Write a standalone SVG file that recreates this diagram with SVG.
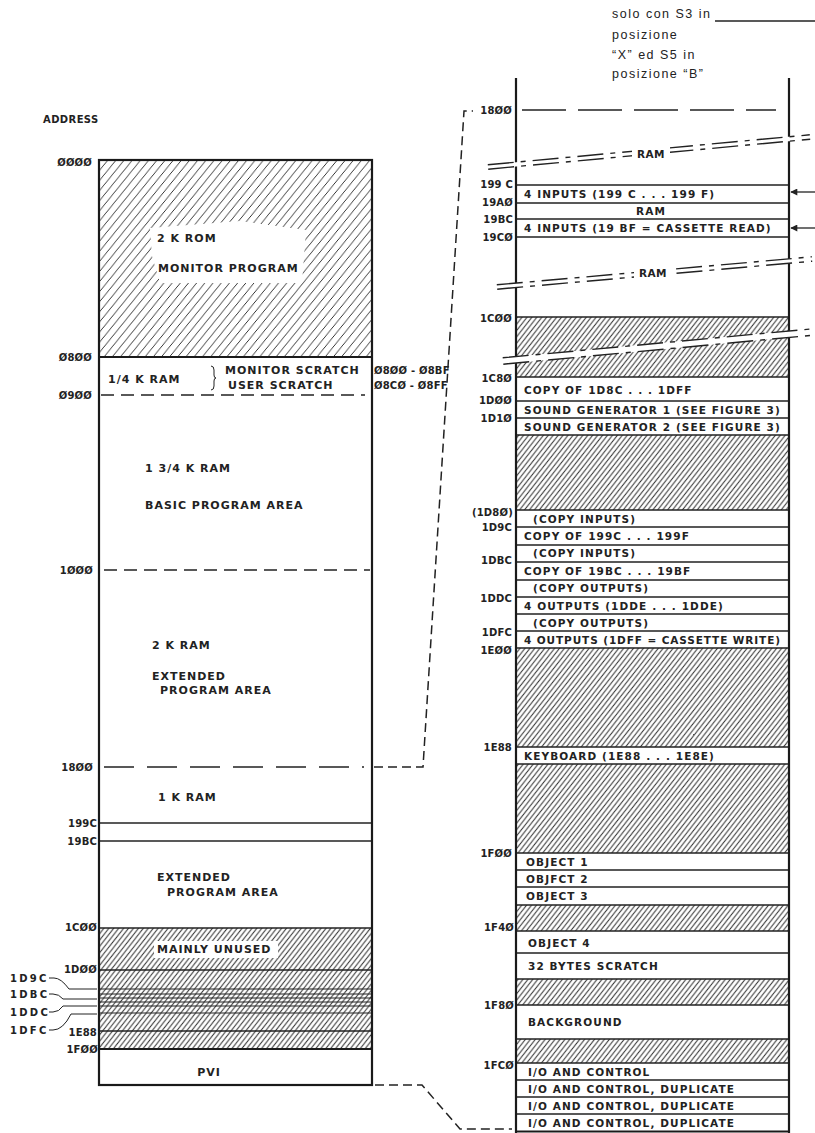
<svg xmlns="http://www.w3.org/2000/svg" width="815" height="1133" viewBox="0 0 815 1133">
<defs>
<pattern id="hatch" width="5.5" height="5.5" patternUnits="userSpaceOnUse" patternTransform="rotate(-7)"><path d="M-1,1 L1,-1 M0,5.5 L5.5,0 M4.5,6.5 L6.5,4.5" stroke="#2e2e2e" stroke-width="1.05" fill="none"/></pattern>
<pattern id="hatchW" width="9" height="9" patternUnits="userSpaceOnUse" patternTransform="rotate(-6)"><path d="M-1,1 L1,-1 M0,9 L9,0 M8,10 L10,8" stroke="#2e2e2e" stroke-width="1" fill="none"/></pattern>
<marker id="arr" viewBox="0 0 10 10" refX="9" refY="5" markerUnits="userSpaceOnUse" markerWidth="10" markerHeight="7" orient="auto"><path d="M0,0 L10,5 L0,10 z" fill="#222"/></marker>
</defs>
<style>
text{font-family:"DejaVu Sans","Liberation Sans",sans-serif;fill:#222;dominant-baseline:central}
.lb{font-weight:bold;font-size:10px;letter-spacing:0.2px;text-anchor:end}
.ld{font-weight:bold;font-size:10px;letter-spacing:2.3px}
.tx{font-weight:bold;font-size:10.5px;letter-spacing:1.1px}
.tl{font-weight:bold;font-size:11px;letter-spacing:1px}
.it{font-family:"Liberation Sans",Arial,sans-serif;font-size:12.5px;letter-spacing:1.5px;dominant-baseline:auto}
.bd{fill:none;stroke:#1a1a1a;stroke-width:2.2}
.ln{fill:none;stroke:#222;stroke-width:1.5}
.dsh{fill:none;stroke:#222;stroke-width:1.5;stroke-dasharray:13 7}
.ldsh{fill:none;stroke:#222;stroke-width:1.5;stroke-dasharray:30 13}
.rdsh{fill:none;stroke:#222;stroke-width:1.5;stroke-dasharray:44 12}
.brk{fill:none;stroke:#222;stroke-width:1.4;stroke-dasharray:26 7 5 7}
.con{fill:none;stroke:#222;stroke-width:1.5;stroke-dasharray:9 5}
.hf{fill:url(#hatch)}
</style>
<rect width="815" height="1133" fill="#ffffff"/>

<!-- LEFT MEMORY MAP -->
<g id="left-map">
<text x="43" y="119" class="tx" style="letter-spacing:0.4px;font-size:10px">ADDRESS</text>
<rect x="99" y="160" width="273" height="925" fill="#fff"/>
<g id="rom">
<rect x="99" y="160" width="273" height="197" fill="url(#hatchW)"/>
<polygon points="150,228 240,221 306,230 302,283 160,283 152,256" fill="#fff"/>
<text x="157" y="238" class="tl">2 K ROM</text>
<text x="158" y="268" class="tl">MONITOR PROGRAM</text>
<text x="92" y="162" class="lb">ØØØØ</text>
</g>
<g id="scratch">
<line x1="99" y1="357" x2="372" y2="357" class="bd"/>
<text x="92" y="357" class="lb">Ø8ØØ</text>
<text x="108" y="379" class="tl">1/4 K RAM</text>
<path d="M211,366 q3,0 3,4 v5 q0,3 2,3 q-2,0 -2,3 v5 q0,4 -3,4" fill="none" stroke="#222" stroke-width="1"/>
<text x="225" y="370" class="tl">MONITOR SCRATCH</text>
<text x="228" y="385" class="tl">USER SCRATCH</text>
<text x="374" y="370" class="lb" style="text-anchor:start">Ø8ØØ - Ø8BF</text>
<text x="374" y="385" class="lb" style="text-anchor:start">Ø8CØ - Ø8FF</text>
</g>
<g id="basic">
<line x1="101" y1="395" x2="365" y2="395" class="dsh"/>
<text x="92" y="395" class="lb">Ø9ØØ</text>
<text x="145" y="468" class="tl">1 3/4 K RAM</text>
<text x="145" y="505" class="tl">BASIC PROGRAM AREA</text>
</g>
<g id="ext1">
<line x1="104" y1="570" x2="370" y2="570" class="dsh"/>
<text x="93" y="570" class="lb">1ØØØ</text>
<text x="152" y="645" class="tl">2 K RAM</text>
<text x="152" y="676" class="tl">EXTENDED</text>
<text x="160" y="690" class="tl">PROGRAM AREA</text>
</g>
<g id="ram1k">
<line x1="104" y1="767" x2="364" y2="767" class="ldsh"/>
<text x="93" y="767" class="lb">18ØØ</text>
<text x="158" y="797" class="tl">1 K RAM</text>
<line x1="99" y1="823" x2="372" y2="823" class="ln"/>
<text x="97" y="823" class="lb">199C</text>
<line x1="99" y1="841" x2="372" y2="841" class="ln"/>
<text x="97" y="841" class="lb">19BC</text>
</g>
<g id="ext2">
<text x="157" y="877" class="tl">EXTENDED</text>
<text x="167" y="892" class="tl">PROGRAM AREA</text>
</g>
<g id="unused">
<rect x="99" y="928" width="273" height="121" class="hf"/>
<rect x="154" y="941" width="124" height="17" fill="#fff"/>
<text x="157" y="949" class="tl">MAINLY UNUSED</text>
<line x1="99" y1="928" x2="372" y2="928" class="ln"/>
<text x="97" y="927" class="lb">1CØØ</text>
<line x1="99" y1="970" x2="372" y2="970" class="ln"/>
<text x="97" y="969" class="lb">1DØØ</text>
<line x1="99" y1="989" x2="372" y2="989" class="ln" style="stroke-width:1.2"/>
<line x1="99" y1="994" x2="372" y2="994" class="ln" style="stroke-width:1"/>
<line x1="99" y1="998" x2="372" y2="998" class="ln" style="stroke-width:1.2"/>
<line x1="99" y1="1002" x2="372" y2="1002" class="ln" style="stroke-width:1"/>
<line x1="99" y1="1006" x2="372" y2="1006" class="ln" style="stroke-width:1.2"/>
<line x1="99" y1="1013" x2="372" y2="1013" class="ln" style="stroke-width:1.2"/>
<line x1="99" y1="1031" x2="372" y2="1031" class="ln"/>
<text x="97" y="1032" class="lb">1E88</text>
<line x1="99" y1="1049" x2="372" y2="1049" class="bd"/>
<text x="98" y="1049" class="lb">1FØØ</text>
<text x="10" y="978" class="ld">1D9C</text>
<text x="10" y="994" class="ld">1DBC</text>
<text x="10" y="1012" class="ld">1DDC</text>
<text x="10" y="1030" class="ld">1DFC</text>
<path d="M49,978 h5 q7,0 15,11 h28 M49,994 h4 q6,0 10,5 h34 M49,1012 h4 q6,0 10,-6 h34 M49,1030 h4 q10,0 18,-16 h26" fill="none" stroke="#222" stroke-width="1"/>
</g>
<g id="pvi">
<text x="209" y="1072" class="tl" style="text-anchor:middle">PVI</text>
</g>
<rect x="99" y="160" width="273" height="925" class="bd"/>
</g>

<!-- NOTE -->
<g id="note">
<text x="612" y="18" class="it">solo con S3 in</text>
<text x="612" y="39" class="it">posizione</text>
<text x="612" y="59" class="it">“X” ed S5 in</text>
<text x="612" y="78" class="it">posizione “B”</text>
<line x1="715" y1="21" x2="815" y2="21" stroke="#222" stroke-width="1.3"/>
</g>

<!-- RIGHT MEMORY MAP -->
<g id="right-map">
<g id="r-hatch">
<rect x="516" y="317" width="273" height="60" class="hf"/>
<rect x="516" y="435" width="273" height="75" class="hf"/>
<rect x="516" y="648" width="273" height="99" class="hf"/>
<rect x="516" y="764" width="273" height="89" class="hf"/>
<rect x="516" y="905" width="273" height="26" class="hf"/>
<rect x="516" y="979" width="273" height="26" class="hf"/>
<rect x="516" y="1039" width="273" height="24" class="hf"/>
</g>
<g id="r-lines">
<line x1="522" y1="110" x2="776" y2="110" class="rdsh"/>
<path class="ln" d="M516,185 H789 M516,203 H789 M516,219 H789 M516,237 H789 M516,317 H789 M516,377 H789 M516,401 H789 M516,418 H789 M516,435 H789 M516,510 H789 M516,527 H789 M516,545 H789 M516,562 H789 M516,580 H789 M516,597 H789 M516,614 H789 M516,631 H789 M516,648 H789 M516,747 H789 M516,764 H789 M516,853 H789 M516,870 H789 M516,887 H789 M516,905 H789 M516,931 H789 M516,953 H789 M516,979 H789 M516,1005 H789 M516,1039 H789 M516,1063 H789 M516,1080 H789 M516,1097 H789 M516,1114 H789"/>
<line x1="516" y1="78" x2="516" y2="1133" class="bd"/>
<line x1="789" y1="78" x2="789" y2="1133" class="bd"/>
<line x1="516" y1="1131.5" x2="789" y2="1131.5" class="bd"/>
</g>
<g id="r-breaks">
<polygon points="487.8,164.8 809.8,134.8 810.2,139.2 488.2,169.2" fill="#fff"/>
<line x1="487.8" y1="164.8" x2="809.8" y2="134.8" class="brk"/>
<line x1="488.2" y1="169.2" x2="810.2" y2="139.2" class="brk"/>
<rect x="632" y="147" width="38" height="14" fill="#fff"/>
<text x="651" y="154" class="tx" style="text-anchor:middle;letter-spacing:0.5px">RAM</text>
<polygon points="496.8,284.8 811.8,256.8 812.2,261.2 497.2,289.2" fill="#fff"/>
<line x1="496.8" y1="284.8" x2="811.8" y2="256.8" class="brk"/>
<line x1="497.2" y1="289.2" x2="812.2" y2="261.2" class="brk"/>
<rect x="634" y="266" width="38" height="14" fill="#fff"/>
<text x="653" y="273" class="tx" style="text-anchor:middle;letter-spacing:0.5px">RAM</text>
<polygon points="502.7,357.8 812.7,328.8 813.3,335.2 503.3,364.2" fill="#fff"/>
<line x1="502.7" y1="357.8" x2="812.7" y2="328.8" class="brk"/>
<line x1="503.3" y1="364.2" x2="813.3" y2="335.2" class="brk"/>
</g>
<g id="r-labels">
<text x="512" y="110" class="lb">18ØØ</text>
<text x="513" y="184" class="lb">199 C</text>
<text x="513" y="202" class="lb">19AØ</text>
<text x="513" y="219" class="lb">19BC</text>
<text x="513" y="237" class="lb">19CØ</text>
<text x="512" y="318" class="lb">1CØØ</text>
<text x="512" y="378" class="lb">1C8Ø</text>
<text x="512" y="400" class="lb">1DØØ</text>
<text x="512" y="418" class="lb">1D1Ø</text>
<text x="513" y="512" class="lb">(1D8Ø)</text>
<text x="512" y="527" class="lb">1D9C</text>
<text x="512" y="560" class="lb">1DBC</text>
<text x="512" y="598" class="lb">1DDC</text>
<text x="512" y="632" class="lb">1DFC</text>
<text x="512" y="650" class="lb">1EØØ</text>
<text x="512" y="747" class="lb">1E88</text>
<text x="512" y="853" class="lb">1FØØ</text>
<text x="514" y="927" class="lb">1F4Ø</text>
<text x="514" y="1005" class="lb">1F8Ø</text>
<text x="514" y="1065" class="lb">1FCØ</text>
</g>
<g id="r-inputs">
<text x="524" y="194" class="tx">4 INPUTS (199 C . . . 199 F)</text>
<text x="651" y="211" class="tx" style="text-anchor:middle">RAM</text>
<text x="524" y="228" class="tx">4 INPUTS (19 BF = CASSETTE READ)</text>
</g>
<g id="r-sound">
<text x="524" y="390" class="tx">COPY OF 1D8C . . . 1DFF</text>
<text x="524" y="410" class="tx">SOUND GENERATOR 1 (SEE FIGURE 3)</text>
<text x="524" y="427" class="tx">SOUND GENERATOR 2 (SEE FIGURE 3)</text>
</g>
<g id="r-copies">
<text x="533" y="519" class="tx">(COPY INPUTS)</text>
<text x="524" y="536" class="tx">COPY OF 199C . . . 199F</text>
<text x="533" y="553" class="tx">(COPY INPUTS)</text>
<text x="524" y="571" class="tx">COPY OF 19BC . . . 19BF</text>
<text x="533" y="588" class="tx">(COPY OUTPUTS)</text>
<text x="524" y="606" class="tx">4 OUTPUTS (1DDE . . . 1DDE)</text>
<text x="533" y="623" class="tx">(COPY OUTPUTS)</text>
<text x="524" y="640" class="tx" style="letter-spacing:0.9px">4 OUTPUTS (1DFF = CASSETTE WRITE)</text>
</g>
<g id="r-keyboard">
<text x="524" y="756" class="tx">KEYBOARD  (1E88 . . . 1E8E)</text>
</g>
<g id="r-objects">
<text x="526" y="862" class="tx">OBJECT 1</text>
<text x="526" y="879" class="tx">OBJFCT 2</text>
<text x="526" y="896" class="tx">OBJECT 3</text>
<text x="528" y="943" class="tx">OBJECT 4</text>
<text x="528" y="966" class="tx">32 BYTES SCRATCH</text>
<text x="528" y="1022" class="tx">BACKGROUND</text>
</g>
<g id="r-io">
<text x="528" y="1072" class="tx">I/O AND CONTROL</text>
<text x="528" y="1089" class="tx">I/O AND CONTROL, DUPLICATE</text>
<text x="528" y="1106" class="tx">I/O AND CONTROL, DUPLICATE</text>
<text x="528" y="1123" class="tx">I/O AND CONTROL, DUPLICATE</text>
</g>
</g>

<!-- CONNECTORS -->
<g id="connectors">
<path d="M374,767 H423 L464,111 H473" class="con"/>
<path d="M375,1085 H422 L460,1129 H512" class="con"/>
<line x1="815" y1="192" x2="791" y2="192" stroke="#222" stroke-width="1.3" marker-end="url(#arr)"/>
<line x1="815" y1="228" x2="791" y2="228" stroke="#222" stroke-width="1.3" marker-end="url(#arr)"/>
</g>
</svg>
